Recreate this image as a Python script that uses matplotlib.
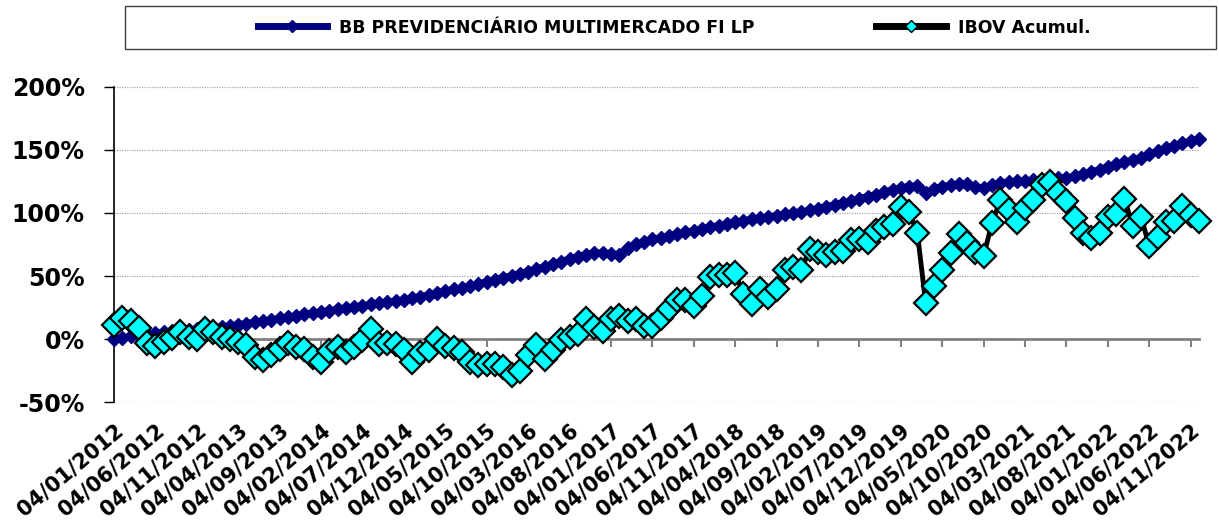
import numpy as np
import matplotlib
matplotlib.use('Agg')
import matplotlib.pyplot as plt
from matplotlib.lines import Line2D
from matplotlib.patches import Rectangle
from matplotlib.ticker import FuncFormatter

# Accumulated return (%), monthly, from 04/01/2012 to 04/12/2022
bb_prev = [0.0, 1.0, 2.0, 3.0, 3.8, 4.6, 5.5, 6.1, 6.7, 7.3,
           7.9, 8.5, 9.1, 9.8, 10.5, 11.4, 12.3, 13.3, 14.3, 15.3,
           16.3, 17.4, 18.5, 19.5, 20.5, 21.5, 22.5, 23.5, 24.5, 25.5,
           26.5, 27.4, 28.3, 29.2, 30.1, 31.0, 32.3, 33.7, 35.0, 36.5,
           38.0, 39.3, 40.5, 42.0, 43.7, 45.3, 47.0, 48.6, 50.2, 51.8,
           53.5, 55.5, 57.5, 59.5, 61.5, 63.4, 65.2, 67.0, 68.5, 68.2,
           67.5, 67.0, 72.0, 75.0, 77.0, 79.0, 80.5, 82.0, 83.5, 84.8,
           86.0, 87.3, 88.8, 90.0, 91.3, 92.6, 94.0, 95.0, 96.0, 97.0,
           98.0, 99.0, 100.0, 101.0, 102.0, 103.5, 105.0, 106.5, 108.0, 109.5,
           111.5, 113.0, 114.5, 116.5, 118.5, 120.0, 121.0, 121.5, 116.0, 119.0,
           121.0, 122.0, 123.0, 123.0, 121.0, 119.5, 122.0, 124.0, 124.5, 125.0,
           125.5, 126.0, 126.5, 127.0, 127.5, 128.0, 129.0, 131.0, 132.5, 134.5,
           136.5, 138.5, 140.5, 142.0, 144.0, 146.5, 149.0, 151.5, 153.5, 155.5,
           157.0, 158.5]

ibov = [11.0, 17.0, 14.5, 9.0, -3.0, -5.5, -2.5, 1.0, 5.5, 1.5,
        0.0, 8.0, 5.5, 1.5, 0.0, -2.5, -5.0, -14.5, -16.5, -12.5,
        -8.0, -3.0, -6.5, -8.0, -14.5, -18.0, -9.5, -6.5, -10.0, -6.5,
        -1.0, 8.0, -4.0, -3.5, -4.0, -8.5, -18.5, -11.0, -9.0, 0.0,
        -5.5, -7.0, -10.0, -18.0, -20.5, -19.5, -19.5, -22.0, -28.5, -25.0,
        -13.0, -5.0, -15.5, -9.0, -1.0, 1.5, 4.0, 15.5, 9.5, 6.0,
        16.0, 18.5, 14.5, 16.0, 10.5, 10.5, 17.0, 24.0, 31.0, 31.0,
        26.5, 34.5, 49.0, 50.5, 50.5, 52.0, 36.0, 28.0, 40.0, 33.0,
        40.0, 54.5, 57.0, 55.0, 71.5, 69.0, 67.0, 69.0, 70.0, 78.5,
        79.0, 77.0, 86.0, 88.5, 91.0, 105.0, 101.0, 84.0, 28.5, 42.0,
        55.0, 68.0, 83.0, 76.0, 69.0, 66.0, 92.0, 110.0, 102.0, 93.0,
        104.0, 110.0, 122.0, 124.5, 116.0, 109.5, 96.0, 84.5, 80.0, 84.5,
        97.0, 99.5, 111.5, 89.5, 97.0, 73.5, 81.0, 92.5, 93.5, 105.5,
        98.5, 93.5]

date_labels = ['04/01/2012', '04/06/2012', '04/11/2012', '04/04/2013', '04/09/2013',
               '04/02/2014', '04/07/2014', '04/12/2014', '04/05/2015', '04/10/2015',
               '04/03/2016', '04/08/2016', '04/01/2017', '04/06/2017', '04/11/2017',
               '04/04/2018', '04/09/2018', '04/02/2019', '04/07/2019', '04/12/2019',
               '04/05/2020', '04/10/2020', '04/03/2021', '04/08/2021', '04/01/2022',
               '04/06/2022', '04/11/2022']

y_ticks = [-50, 0, 50, 100, 150, 200]

plt.rcParams['font.family'] = ['DejaVu Sans']
plt.rcParams['font.weight'] = 'bold'

x = np.arange(len(bb_prev))

fig = plt.figure(figsize=(12.19, 5.24), dpi=100)
ax = fig.add_axes([0.0935, 0.2328, 0.8901, 0.6012])

# dotted gridlines
for v in y_ticks:
    if v != 0:
        ax.axhline(v, color='#a6a6a6', lw=0.9, ls=(0, (1, 1)), zorder=0)

ax.plot(x, bb_prev, color='#000080', lw=5, marker='D', ms=7.5,
        mec='#000080', mfc='#000080', clip_on=False, zorder=3)
ax.plot(x, ibov, color='black', lw=3.5, marker='D', ms=12.5,
        mfc='#00ffff', mec='black', mew=1.6, clip_on=False, zorder=4)

ax.set_xlim(0, len(bb_prev) - 1)
ax.set_ylim(-50, 200)
ax.set_yticks(y_ticks)
ax.yaxis.set_major_formatter(FuncFormatter(lambda v, p: '%d%%' % v))
ax.tick_params(axis='y', direction='out', length=7, width=1, pad=14,
               labelsize=17, colors='black')

ax.set_xticks(x[::5])
ax.set_xticklabels(date_labels, rotation=40, ha='right', va='top',
                   rotation_mode='anchor', fontsize=15)
ax.tick_params(axis='x', length=0, pad=13)

for s in ['top', 'right', 'bottom']:
    ax.spines[s].set_visible(False)
ax.spines['left'].set_color('black')
ax.spines['left'].set_linewidth(1.2)

# category axis crossing at 0%
sec = ax.secondary_xaxis(0.2)
sec.set_xticks(x[::5])
sec.set_xticklabels([])
sec.spines['bottom'].set_color('#808080')
sec.spines['bottom'].set_linewidth(2)
sec.tick_params(axis='x', direction='out', length=6, width=1.5, color='#808080')
sec.set_zorder(1)

# legend box
fig.patches.append(Rectangle((125 / 1219, 1 - 49 / 524), 1091 / 1219, 43 / 524,
                             transform=fig.transFigure, fill=False,
                             edgecolor='#404040', lw=1))
handles = [Line2D([], [], color='#000080', lw=5, marker='D', ms=6,
                  mfc='#000080', mec='#000080'),
           Line2D([], [], color='black', lw=5, marker='D', ms=6,
                  mfc='#00ffff', mec='black', mew=1)]
fig.legend(handles, ['BB PREVIDENCIÁRIO MULTIMERCADO FI LP', 'IBOV Acumul.'],
           loc='center', bbox_to_anchor=(0.553, 0.9475), ncol=2, frameon=False,
           fontsize=12.5, handlelength=4, handletextpad=0.7, columnspacing=7)

fig.savefig('out.png', dpi=100)
